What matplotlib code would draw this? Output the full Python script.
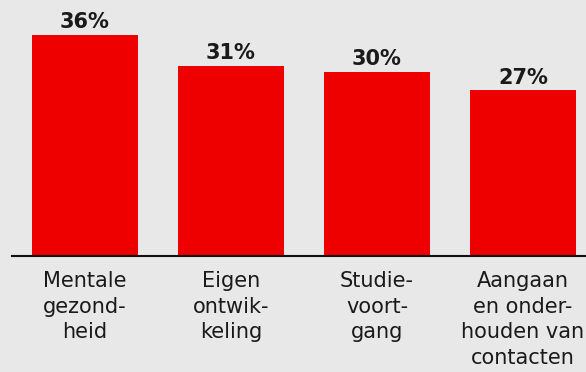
import matplotlib
matplotlib.use("Agg")
import matplotlib.pyplot as plt
import matplotlib.transforms as mtransforms

# Share of respondents per topic (%)
categories = [
    "Mentale\ngezond-\nheid",
    "Eigen\nontwik-\nkeling",
    "Studie-\nvoort-\ngang",
    "Aangaan\nen onder-\nhouden van\ncontacten",
]
values = [36, 31, 30, 27]

bg = "#e8e8e8"
red = "#ee0000"
ink = "#1a1a1a"

fig = plt.figure(figsize=(5.86, 3.72), dpi=100, facecolor=bg)
ax = fig.add_axes([12 / 586, 116 / 372, 574 / 586, 256 / 372])
ax.set_facecolor(bg)

x = list(range(len(values)))
ax.bar(x, values, width=0.726, color=red, zorder=2)

ax.set_xlim(-0.5, 3.432)
ax.set_ylim(0, 41.76)

for s in ["top", "right", "left"]:
    ax.spines[s].set_visible(False)
ax.spines["bottom"].set_linewidth(1.5)
ax.spines["bottom"].set_color("#111111")
ax.set_xticks([])
ax.set_yticks([])

# value labels above bars
for xi, v in zip(x, values):
    ax.annotate(f"{v}%", (xi, v), xytext=(0, 5), textcoords="offset points",
                ha="center", va="baseline", fontsize=15, fontweight="bold",
                color=ink)

# category labels below the axis
trans = mtransforms.blended_transform_factory(ax.transData, ax.transAxes)
for xi, lab in zip(x, categories):
    ax.annotate(lab, (xi, 0), xycoords=trans, xytext=(0, -10.5),
                textcoords="offset points", ha="center", va="top",
                fontsize=15, color=ink, linespacing=1.37)

fig.savefig("out.png", dpi=100, facecolor=bg)
